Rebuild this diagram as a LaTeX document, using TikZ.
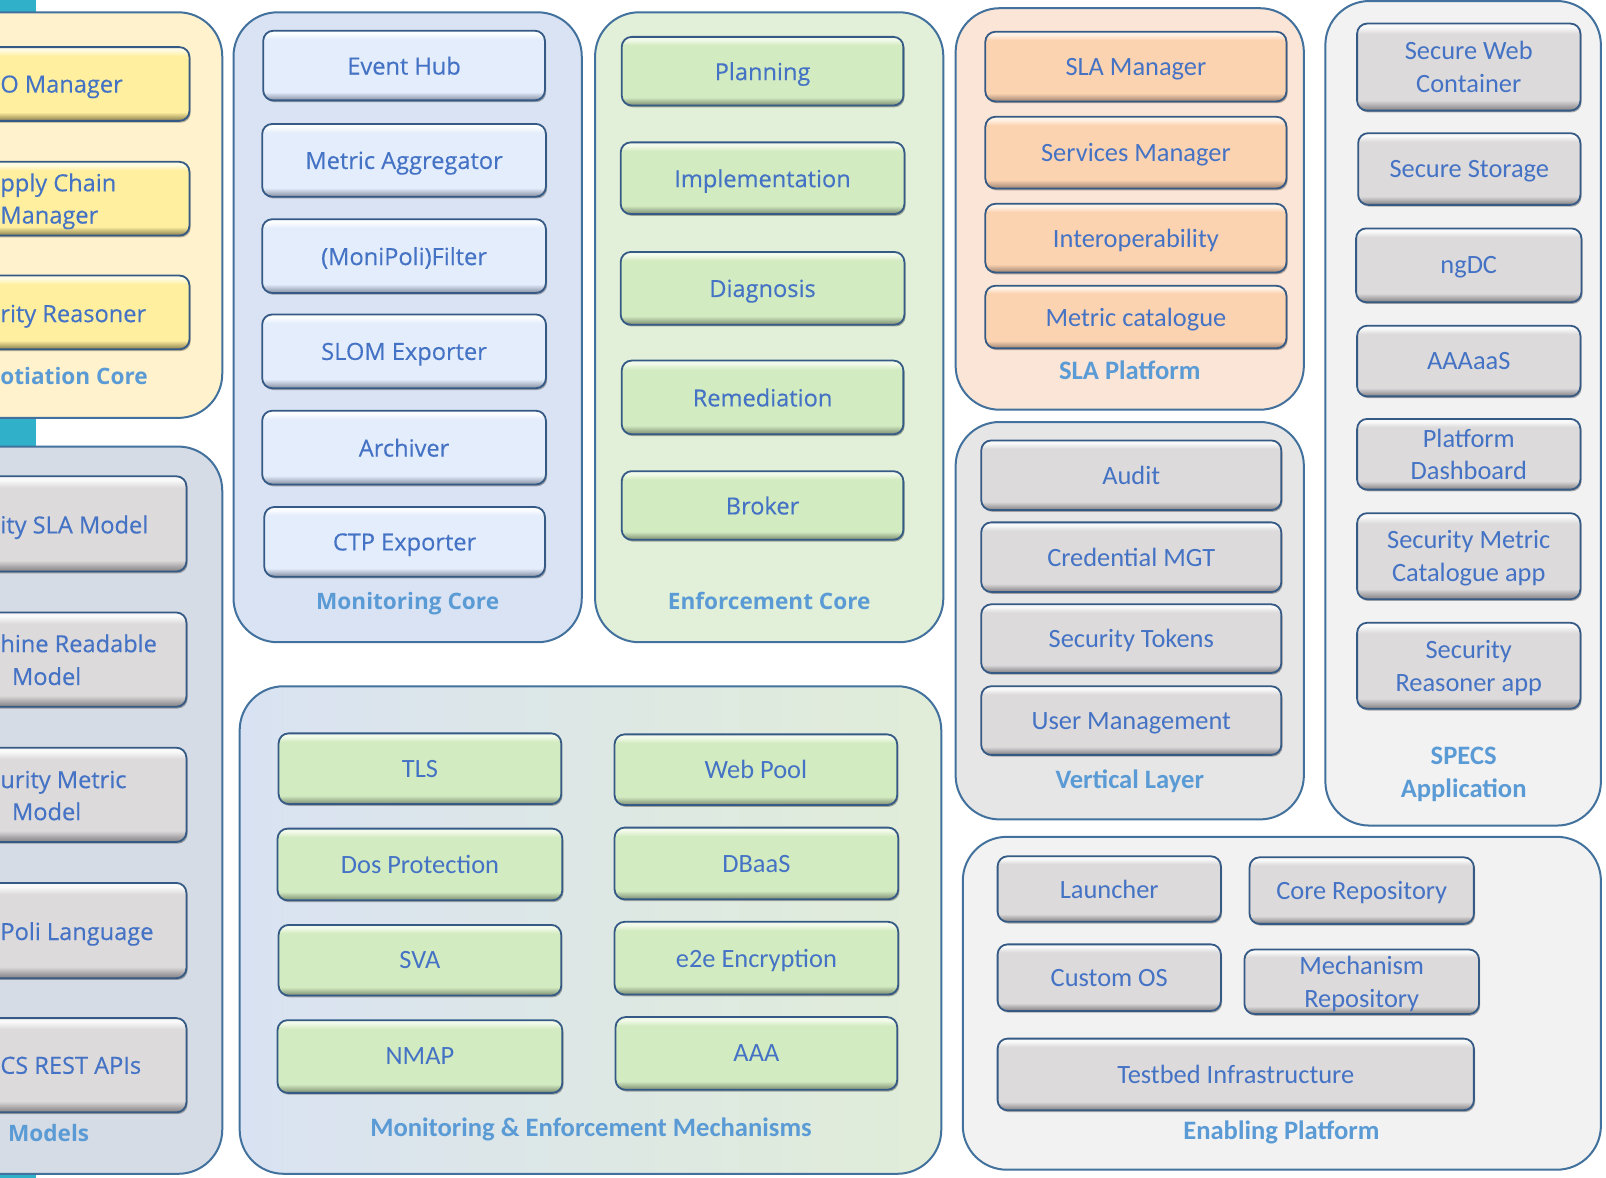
\documentclass[tikz,border=0pt]{standalone}
\usepackage{fontspec}
\setmainfont{Open Sans}
\newfontfamily\segfont{Open Sans}[FakeBold=0.35]
\newfontfamily\calfont{Carlito}
\usetikzlibrary{shadows}
\definecolor{bord}{HTML}{41719C}
\definecolor{boxbord}{HTML}{355A85}
\definecolor{txt}{HTML}{4472C4}
\definecolor{lblc}{HTML}{5B9BD5}
\definecolor{cyanbar}{HTML}{31B0CA}
\definecolor{negP}{HTML}{FFF2CC}
\definecolor{modP}{HTML}{D6DCE5}
\definecolor{monP}{HTML}{DAE3F3}
\definecolor{enfP}{HTML}{E2F0D9}
\definecolor{slaP}{HTML}{FBE5D6}
\definecolor{verP}{HTML}{E7E6E6}
\definecolor{ltP}{HTML}{F2F2F2}
\definecolor{meL}{HTML}{D9E2F2}
\definecolor{meM}{HTML}{C3CCB6}
\definecolor{meR}{HTML}{E1EDD8}
% box families: base, light, dark
\definecolor{yB}{HTML}{FFEF9E}\definecolor{yL}{HTML}{FFFBE2}\definecolor{yD}{HTML}{8E8250}
\definecolor{bB}{HTML}{E4EDFB}\definecolor{bL}{HTML}{FBFDFF}\definecolor{bD}{HTML}{8892A6}
\definecolor{gB}{HTML}{D3EBC1}\definecolor{gL}{HTML}{F2FAEA}\definecolor{gD}{HTML}{7E9074}
\definecolor{oB}{HTML}{FCD3B1}\definecolor{oL}{HTML}{FFF2E6}\definecolor{oD}{HTML}{A08672}
\definecolor{rB}{HTML}{DCDADB}\definecolor{rL}{HTML}{F9F9F9}\definecolor{rD}{HTML}{848284}
\newcommand\mkshade[3]{\pgfdeclareverticalshading{sh#1}{100bp}{color(0bp)=(#3); color(25bp)=(#3); color(27bp)=(#3!70!#1); color(31bp)=(#1); color(69bp)=(#1); color(73bp)=(#2); color(75bp)=(#2); color(100bp)=(#2)}}
\mkshade{yB}{yL}{yD}
\mkshade{bB}{bL}{bD}
\mkshade{gB}{gL}{gD}
\mkshade{oB}{oL}{oD}
\mkshade{rB}{rL}{rD}
\tikzset{
 panel/.style={draw=bord, line width=1pt, rounded corners=22pt, inner sep=0pt},
 box/.style={draw=boxbord, line width=0.9pt, rounded corners=5pt, inner sep=1pt, align=center, text=txt,
   text depth=0pt, font=\segfont\fontsize{11.8}{16.4}\selectfont,
   drop shadow={shadow xshift=0.6pt, shadow yshift=-0.9pt, opacity=0.3, fill=black}},
 cbox/.style={box, font=\calfont\fontsize{13.2}{16.4}\selectfont},
 ylw/.style={shading=shyB},
 blu/.style={shading=shbB},
 grn/.style={shading=shgB},
 org/.style={shading=shoB},
 gry/.style={shading=shrB},
 ctext/.style={text=txt, inner sep=0pt, text depth=0pt, font=\segfont\fontsize{11.8}{16.4}\selectfont},
 lbl/.style={text=lblc, inner sep=0pt, text depth=0pt, font=\bfseries\fontsize{11.3}{14}\selectfont},
 clbl/.style={text=lblc, inner sep=0pt, text depth=0pt, align=center, font=\calfont\bfseries\fontsize{13.3}{16.4}\selectfont},
}
\newcommand\bx[7]{\node[#6, minimum width={((#4)-(#2))*0.5121pt}, minimum height={((#5)-(#3))*0.5121pt}] (#1) at ({((#2)+(#4))/2},{((#3)+(#5))/2}) {#7};}
\begin{document}
\begin{tikzpicture}[x=0.5121pt,y=-0.5121pt]
\useasboundingbox (0,0) rectangle (1568,1150);
\clip (0,0) rectangle (1568,1150);
\fill[white] (0,0) rectangle (1568,1150);
\fill[cyanbar] (0,0) rectangle (35,1150);
% ---------- Negotiation Core (cut off) ----------
\bx{pNeg}{-60}{12}{217}{408}{panel, fill=negP}{}
\bx{nb1}{-60}{46}{185}{118}{box,ylw}{}
\bx{nb2}{-60}{158}{185}{230}{box,ylw}{}
\bx{nb3}{-60}{269}{185}{341}{box,ylw}{}
\node[ctext, anchor=west] (nt1) at (0,82) {O Manager};
\node[ctext, anchor=west] (nt2a) at (0,178) {pply Chain};
\node[ctext, anchor=west] (nt2b) at (0,210) {Manager};
\node[ctext, anchor=west] (nt3) at (0,306) {rity Reasoner};
\node[lbl, anchor=west] (nlbl) at (0,367) {otiation Core};
% ---------- Models (cut off) ----------
\bx{pMod}{-60}{436}{217}{1146}{panel, fill=modP}{}
\bx{mb1}{-60}{465}{182}{558}{box,gry}{}
\bx{mb2}{-60}{598}{182}{690}{box,gry}{}
\bx{mb3}{-60}{730}{182}{822}{box,gry}{}
\bx{mb4}{-60}{862}{182}{955}{box,gry}{}
\bx{mb5}{-60}{994}{182}{1086}{box,gry}{}
\node[ctext, anchor=west] (mt1) at (0,512) {ity SLA Model};
\node[ctext, anchor=west] (mt2a) at (0,628) {hine Readable};
\node[ctext] (mt2b) at (45.5,660) {Model};
\node[ctext, anchor=west] (mt3a) at (0,761) {urity Metric};
\node[ctext] (mt3b) at (45.5,792) {Model};
\node[ctext, anchor=west] (mt4) at (0,909) {Poli Language};
\node[ctext, anchor=west] (mt5) at (0,1040) {CS REST APIs};
\node[lbl] (mlbl) at (47.5,1106) {Models};
% ---------- Monitoring Core ----------
\bx{pMon}{228}{12}{568}{627}{panel, fill=monP}{}
\bx{mo1}{257}{30}{532}{98}{box,blu}{Event Hub}
\bx{mo2}{256}{121}{533}{192}{box,blu}{Metric Aggregator}
\bx{mo3}{256}{214}{533}{286}{box,blu}{(MoniPoli)Filter}
\bx{mo4}{256}{307}{533}{379}{box,blu}{SLOM Exporter}
\bx{mo5}{256}{401}{533}{473}{box,blu}{Archiver}
\bx{mo6}{258}{495}{532}{563}{box,blu}{CTP Exporter}
\node[lbl] (molbl) at (398,587) {Monitoring Core};
% ---------- Enforcement Core ----------
\bx{pEnf}{581}{12}{921}{627}{panel, fill=enfP}{}
\bx{en1}{607}{36}{882}{103}{box,grn}{Planning}
\bx{en2}{606}{139}{883}{209}{box,grn}{Implementation}
\bx{en3}{606}{246}{883}{317}{box,grn}{Diagnosis}
\bx{en4}{607}{352}{882}{424}{box,grn}{Remediation}
\bx{en5}{607}{460}{882}{527}{box,grn}{Broker}
\node[lbl] (enlbl) at (751,587) {Enforcement Core};
% ---------- SLA Platform ----------
\bx{pSla}{933}{8}{1273}{400}{panel, fill=slaP}{}
\bx{sl1}{962}{31}{1256}{99}{cbox,org}{SLA Manager}
\bx{sl2}{962}{114}{1256}{184}{cbox,org}{Services Manager}
\bx{sl3}{962}{199}{1256}{266}{cbox,org}{Interoperability}
\bx{sl4}{962}{279}{1256}{340}{cbox,org}{Metric catalogue}
\node[clbl] (sllbl) at (1103,361) {SLA Platform};
% ---------- Vertical Layer ----------
\bx{pVer}{933}{412}{1273}{800}{panel, fill=verP}{}
\bx{ve1}{958}{430}{1251}{498}{cbox,gry}{Audit}
\bx{ve2}{958}{510}{1251}{578}{cbox,gry}{Credential MGT}
\bx{ve3}{958}{590}{1251}{657}{cbox,gry}{Security Tokens}
\bx{ve4}{958}{670}{1251}{737}{cbox,gry}{User Management}
\node[clbl] (velbl) at (1103,761) {Vertical Layer};
% ---------- SPECS Application ----------
\bx{pSpe}{1294}{1}{1563}{806}{panel, fill=ltP}{}
\bx{sp1}{1325}{23}{1543}{108}{cbox,gry}{Secure Web\\Container}
\bx{sp2}{1326}{130}{1543}{200}{cbox,gry}{Secure Storage}
\bx{sp3}{1324}{223}{1544}{295}{cbox,gry}{ngDC}
\bx{sp4}{1325}{318}{1543}{387}{cbox,gry}{AAAaaS}
\bx{sp5}{1325}{409}{1543}{478}{cbox,gry}{Platform\\Dashboard}
\bx{sp6}{1325}{501}{1543}{585}{cbox,gry}{Security Metric\\Catalogue app}
\bx{sp7}{1325}{608}{1543}{692}{cbox,gry}{Security\\Reasoner app}
\node[clbl] (splbl) at (1429,754) {SPECS\\Application};
% ---------- Monitoring & Enforcement Mechanisms ----------
\bx{pMe}{234}{670}{919}{1146}{panel, left color=meL, middle color=meM, right color=meR}{}
\bx{me1}{272}{716}{548}{785}{cbox,grn}{TLS}
\bx{me2}{600}{717}{876}{786}{cbox,grn}{Web Pool}
\bx{me3}{271}{809}{549}{879}{cbox,grn}{Dos Protection}
\bx{me4}{600}{808}{877}{878}{cbox,grn}{DBaaS}
\bx{me5}{272}{903}{548}{972}{cbox,grn}{SVA}
\bx{me6}{600}{900}{877}{971}{cbox,grn}{e2e Encryption}
\bx{me7}{271}{996}{549}{1067}{cbox,grn}{NMAP}
\bx{me8}{601}{993}{876}{1064}{cbox,grn}{AAA}
\node[clbl] (melbl) at (577,1100) {Monitoring \& Enforcement Mechanisms};
% ---------- Enabling Platform ----------
\bx{pEna}{940}{817}{1563}{1142}{panel, fill=ltP}{}
\bx{ep1}{974}{836}{1192}{900}{cbox,gry}{Launcher}
\bx{ep2}{1220}{837}{1439}{902}{cbox,gry}{Core Repository}
\bx{ep3}{974}{922}{1192}{987}{cbox,gry}{Custom OS}
\bx{ep4}{1215}{927}{1444}{990}{cbox,gry}{Mechanism\\Repository}
\bx{ep5}{974}{1014}{1439}{1084}{cbox,gry}{Testbed Infrastructure}
\node[clbl] (eplbl) at (1251,1103) {Enabling Platform};
\end{tikzpicture}
\end{document}
